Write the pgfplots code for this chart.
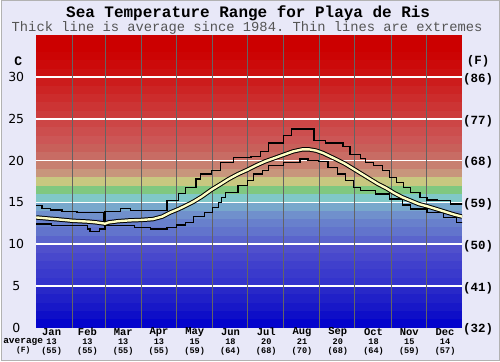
\documentclass[border=0pt]{standalone}
\usepackage{pgfplots}
\pgfplotsset{compat=1.18}
\usepackage{fontspec}
\setmainfont{Liberation Sans}
\setmonofont{Liberation Mono}
\newfontfamily\dejavu{DejaVu Sans}
\definecolor{bgc}{RGB}{232,232,248}
\definecolor{b0}{RGB}{4,4,204}
\definecolor{b1}{RGB}{14,14,200}
\definecolor{b2}{RGB}{24,24,200}
\definecolor{b3}{RGB}{32,32,200}
\definecolor{b4}{RGB}{40,40,200}
\definecolor{b5}{RGB}{52,52,204}
\definecolor{b6}{RGB}{58,58,204}
\definecolor{b7}{RGB}{64,64,204}
\definecolor{b8}{RGB}{72,72,204}
\definecolor{b9}{RGB}{80,80,204}
\definecolor{b10}{RGB}{90,100,204}
\definecolor{b11}{RGB}{98,116,204}
\definecolor{b12}{RGB}{104,128,204}
\definecolor{b13}{RGB}{112,144,204}
\definecolor{b14}{RGB}{120,168,204}
\definecolor{b15}{RGB}{128,200,200}
\definecolor{b16}{RGB}{128,200,128}
\definecolor{b17}{RGB}{200,200,128}
\definecolor{b18}{RGB}{200,150,124}
\definecolor{b19}{RGB}{200,128,112}
\definecolor{b20}{RGB}{200,108,100}
\definecolor{b21}{RGB}{200,96,90}
\definecolor{b22}{RGB}{204,86,86}
\definecolor{b23}{RGB}{204,78,78}
\definecolor{b24}{RGB}{204,70,70}
\definecolor{b25}{RGB}{204,60,60}
\definecolor{b26}{RGB}{204,52,52}
\definecolor{b27}{RGB}{204,44,44}
\definecolor{b28}{RGB}{204,36,36}
\definecolor{b29}{RGB}{204,28,28}
\definecolor{b30}{RGB}{204,16,16}
\definecolor{b31}{RGB}{204,10,10}
\definecolor{b32}{RGB}{204,4,4}
\definecolor{b33}{RGB}{204,0,0}
\definecolor{b34}{RGB}{204,0,0}
\definecolor{avgc}{RGB}{255,255,196}
\definecolor{vgrid}{RGB}{100,100,100}
\begin{document}
\begin{tikzpicture}
\fill[bgc] (-35bp,-33.5bp) rectangle (465bp,328.5bp);
\draw[gray!60, line width=1bp] (-34.5bp,-33bp) rectangle (464.5bp,328bp);
\begin{axis}[at={(0,0)}, anchor=south west, scale only axis,
  width=427bp, height=293bp, xmin=0, xmax=365, ymin=0, ymax=35,
  axis line style={draw=none}, ticks=none,
  band/.style={draw=none, forget plot}]
\addplot[band, fill=b0] coordinates {(0,0)(365,0)(365,1.1)(0,1.1)};
\addplot[band, fill=b1] coordinates {(0,1)(365,1)(365,2.1)(0,2.1)};
\addplot[band, fill=b2] coordinates {(0,2)(365,2)(365,3.1)(0,3.1)};
\addplot[band, fill=b3] coordinates {(0,3)(365,3)(365,4.1)(0,4.1)};
\addplot[band, fill=b4] coordinates {(0,4)(365,4)(365,5.1)(0,5.1)};
\addplot[band, fill=b5] coordinates {(0,5)(365,5)(365,6.1)(0,6.1)};
\addplot[band, fill=b6] coordinates {(0,6)(365,6)(365,7.1)(0,7.1)};
\addplot[band, fill=b7] coordinates {(0,7)(365,7)(365,8.1)(0,8.1)};
\addplot[band, fill=b8] coordinates {(0,8)(365,8)(365,9.1)(0,9.1)};
\addplot[band, fill=b9] coordinates {(0,9)(365,9)(365,10.1)(0,10.1)};
\addplot[band, fill=b10] coordinates {(0,10)(365,10)(365,11.1)(0,11.1)};
\addplot[band, fill=b11] coordinates {(0,11)(365,11)(365,12.1)(0,12.1)};
\addplot[band, fill=b12] coordinates {(0,12)(365,12)(365,13.1)(0,13.1)};
\addplot[band, fill=b13] coordinates {(0,13)(365,13)(365,14.1)(0,14.1)};
\addplot[band, fill=b14] coordinates {(0,14)(365,14)(365,15.1)(0,15.1)};
\addplot[band, fill=b15] coordinates {(0,15)(365,15)(365,16.1)(0,16.1)};
\addplot[band, fill=b16] coordinates {(0,16)(365,16)(365,17.1)(0,17.1)};
\addplot[band, fill=b17] coordinates {(0,17)(365,17)(365,18.1)(0,18.1)};
\addplot[band, fill=b18] coordinates {(0,18)(365,18)(365,19.1)(0,19.1)};
\addplot[band, fill=b19] coordinates {(0,19)(365,19)(365,20.1)(0,20.1)};
\addplot[band, fill=b20] coordinates {(0,20)(365,20)(365,21.1)(0,21.1)};
\addplot[band, fill=b21] coordinates {(0,21)(365,21)(365,22.1)(0,22.1)};
\addplot[band, fill=b22] coordinates {(0,22)(365,22)(365,23.1)(0,23.1)};
\addplot[band, fill=b23] coordinates {(0,23)(365,23)(365,24.1)(0,24.1)};
\addplot[band, fill=b24] coordinates {(0,24)(365,24)(365,25.1)(0,25.1)};
\addplot[band, fill=b25] coordinates {(0,25)(365,25)(365,26.1)(0,26.1)};
\addplot[band, fill=b26] coordinates {(0,26)(365,26)(365,27.1)(0,27.1)};
\addplot[band, fill=b27] coordinates {(0,27)(365,27)(365,28.1)(0,28.1)};
\addplot[band, fill=b28] coordinates {(0,28)(365,28)(365,29.1)(0,29.1)};
\addplot[band, fill=b29] coordinates {(0,29)(365,29)(365,30.1)(0,30.1)};
\addplot[band, fill=b30] coordinates {(0,30)(365,30)(365,31.1)(0,31.1)};
\addplot[band, fill=b31] coordinates {(0,31)(365,31)(365,32.1)(0,32.1)};
\addplot[band, fill=b32] coordinates {(0,32)(365,32)(365,33.1)(0,33.1)};
\addplot[band, fill=b33] coordinates {(0,33)(365,33)(365,34.1)(0,34.1)};
\addplot[band, fill=b34] coordinates {(0,34)(365,34)(365,35.1)(0,35.1)};
% horizontal grid
\foreach \v in {5,10,15,20,25,30}{
  \edef\tmp{\noexpand\addplot[white, line width=1.6bp, forget plot] coordinates {(0,\v)(365,\v)};}\tmp
}
% vertical month grid
\foreach \d in {31,59,90,120,151,181,212,243,273,304,334}{
  \edef\tmp{\noexpand\addplot[vgrid, line width=0.8bp, forget plot] coordinates {(\d,0)(\d,35)};}\tmp
}
% maximum
\addplot[black, line width=1.3bp, const plot] coordinates {
(0,14.6)(5,14.3)(12,14.1)(22,13.9)(35,13.8)(58,12.6)(59,13.9)(72,14.3)(81,14.0)
(112,15.2)(122,16.1)(128,16.8)(137,17.8)(141,18.4)(150,18.8)(158,19.8)(169,20.4)
(184,20.5)(192,21.1)(199,22.1)(212,23.0)(219,23.8)(238,22.4)(248,22.1)(263,21.7)
(269,20.7)(278,20.3)(282,19.8)(289,19.4)(297,18.8)(303,18.0)(309,17.4)(315,16.8)
(321,16.2)(329,15.6)(335,15.3)(344,15.2)(355,14.8)(365,14.65)};
% minimum
\addplot[black, line width=1.3bp, const plot] coordinates {
(0,12.4)(13,12.25)(26,12.2)(44,11.8)(46,11.5)(54,11.8)(59,12.2)(84,12.0)(98,11.8)
(112,12.0)(120,12.3)(128,12.6)(135,13.3)(144,13.8)(151,14.4)(156,15.0)(159,15.6)
(162,16.2)(173,17.0)(181,17.6)(186,18.4)(194,18.8)(199,19.4)(212,19.8)(226,20.2)
(233,20.0)(242,19.9)(250,19.2)(258,18.4)(265,17.6)(272,16.8)(278,16.4)(291,16.0)
(303,15.4)(314,14.7)(321,14.2)(335,13.8)(349,13.2)(360,12.6)(365,12.5)};
% average
\pgfplotstableread{
d v
0 13.2
8 13.1
16 13.0
24 12.9
31 12.8
38 12.75
45 12.7
52 12.6
57 12.5
59 12.45
62 12.6
70 12.75
80 12.85
90 12.9
100 13.0
108 13.3
115 13.8
122 14.2
128 14.6
135 15.1
142 15.7
150 16.5
157 17.1
165 17.8
173 18.4
181 18.9
188 19.4
196 19.9
204 20.3
212 20.7
220 21.1
228 21.35
234 21.35
240 21.2
246 20.9
252 20.5
258 20.1
265 19.6
272 19.0
279 18.4
286 17.8
293 17.2
300 16.7
307 16.1
314 15.6
321 15.2
328 14.8
336 14.5
343 14.2
350 13.9
358 13.55
365 13.3
}\avgtable
\addplot[black, line width=4.4bp] table[x=d,y=v] {\avgtable};
\addplot[avgc, line width=2.4bp] table[x=d,y=v] {\avgtable};
\end{axis}
% titles
\node[font=\ttfamily\bfseries\fontsize{16bp}{18bp}\selectfont] at (212.5bp,315.5bp) {Sea Temperature Range for Playa de Ris};
\node[font=\ttfamily\fontsize{13.8bp}{15bp}\selectfont, text={rgb,255:red,85;green,85;blue,85}] at (211.5bp,300.5bp) {Thick line is average since 1984. Thin lines are extremes};
% unit labels
\node[font=\ttfamily\bfseries\fontsize{13bp}{15bp}\selectfont] at (-18bp,267bp) {C};
\node[font=\ttfamily\bfseries\fontsize{12.5bp}{14bp}\selectfont] at (443bp,267bp) {(F)};
% left tick labels
\foreach \v/\y in {0/0,5/41.86,10/83.71,15/125.57,20/167.43,25/209.29,30/251.14}{
  \node[font=\dejavu\fontsize{12.5bp}{14bp}\selectfont] at (-20bp,\y bp) {\v};
}
% right tick labels
\foreach \f/\y in {32/-2,41/39.86,50/81.71,59/123.57,68/165.43,77/207.29,86/249.14}{
  \node[font=\ttfamily\bfseries\fontsize{12.5bp}{14bp}\selectfont] at (443bp,\y bp) {(\f)};
}
% month labels
\foreach \m/\c/\f [count=\i from 0] in {Jan/13/55,Feb/13/55,Mar/13/55,Apr/13/55,May/15/59,Jun/18/64,Jul/20/68,Aug/21/70,Sep/20/68,Oct/18/64,Nov/15/59,Dec/14/57}{
  \pgfmathsetmacro{\xx}{15.5+35.86*\i}
  \node[font=\ttfamily\bfseries\fontsize{10.5bp}{11bp}\selectfont] at (\xx bp,-4.5bp) {\m};
  \node[font=\ttfamily\bfseries\fontsize{8.6bp}{9bp}\selectfont] at (\xx bp,-14.2bp) {\c};
  \node[font=\ttfamily\bfseries\fontsize{8.6bp}{9bp}\selectfont] at (\xx bp,-23.2bp) {(\f)};
}
\node[font=\ttfamily\bfseries\fontsize{9.5bp}{10bp}\selectfont] at (-13bp,-14.2bp) {average};
\node[font=\ttfamily\bfseries\fontsize{8bp}{9bp}\selectfont] at (-13bp,-23.2bp) {(F)};
\end{tikzpicture}
\end{document}
